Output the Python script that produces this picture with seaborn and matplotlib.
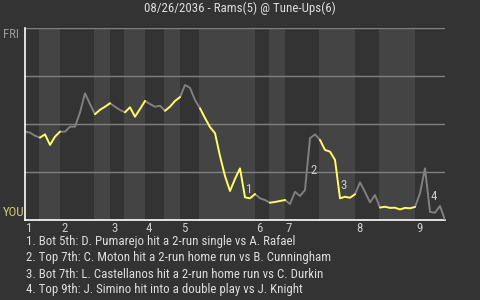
import numpy as np
import pandas as pd
import matplotlib
matplotlib.use("Agg")
import matplotlib.pyplot as plt
import seaborn as sns

# ---------------- data ----------------
title = "08/26/2036 - Rams(5) @ Tune-Ups(6)"
top_label = "FRI"
bottom_label = "YOU"

# win-probability value after each plate appearance (0 = bottom, 1 = top)
wp = [0.460, 0.455, 0.439, 0.429, 0.446, 0.391, 0.434, 0.460, 0.460, 0.486,
      0.486, 0.560, 0.660, 0.604, 0.551, 0.574, 0.590, 0.608, 0.590, 0.573,
      0.561, 0.587, 0.538, 0.578, 0.620, 0.604, 0.590, 0.595, 0.569, 0.590,
      0.620, 0.640, 0.703, 0.688, 0.625, 0.582, 0.531, 0.484, 0.452, 0.333,
      0.229, 0.151, 0.214, 0.269, 0.118, 0.113, 0.135, 0.113, 0.104, 0.090,
      0.094, 0.099, 0.104, 0.083, 0.147, 0.125, 0.156, 0.426, 0.446, 0.417,
      0.365, 0.356, 0.313, 0.113, 0.121, 0.116, 0.134, 0.196, 0.146, 0.092,
      0.130, 0.065, 0.069, 0.063, 0.064, 0.055, 0.063, 0.061, 0.068, 0.139,
      0.269, 0.042, 0.038, 0.073, 0.000]

# plate-appearance index where each half inning starts (top 1, bot 1, ...)
half_starts = [0, 3, 7, 14, 17, 20, 24, 28, 31, 35, 46, 49, 52, 59, 66, 71, 78]
inning_labels = ["1", "2", "3", "4", "5", "6", "7", "8", "9"]

# key events: PA index after the event, label number, description
event_pa = [44, 57, 63, 81]
event_num = ["1", "2", "3", "4"]
event_text = [
    "1. Bot 5th: D. Pumarejo hit a 2-run single vs A. Rafael",
    "2. Top 7th: C. Moton hit a 2-run home run vs B. Cunningham",
    "3. Bot 7th: L. Castellanos hit a 2-run home run vs C. Durkin",
    "4. Top 9th: J. Simino hit into a double play vs J. Knight",
]

# ---------------- styling ----------------
BG = "#333333"
BAND = "#444444"
GRID = "#808080"
GRAY_LINE = "#808080"
YELLOW = "#ffff66"
TEXT = "#dddddd"
FS = 9.3

sns.set_theme(style="dark")
plt.rcParams['font.family'] = ['Roboto Condensed', 'Liberation Sans Narrow',
                               'DejaVu Sans']
plt.rcParams['font.stretch'] = 'condensed'
plt.rcParams['figure.facecolor'] = BG
plt.rcParams['axes.facecolor'] = BG

fig = plt.figure(figsize=(4.8, 3.0), dpi=100)
W, H = 480, 300
ax = fig.add_axes([25 / W, 1 - 220 / H, 420 / W, 192 / H])
ax.set_facecolor(BG)

last_pa = len(wp) - 1

# build segmented data frame (one segment per half inning)
rows = []
for i, s in enumerate(half_starts):
    e = half_starts[i + 1] if i + 1 < len(half_starts) else last_pa
    half = "top" if i % 2 == 0 else "bot"
    for k in range(s, e + 1):
        rows.append({"pa": k, "wp": wp[k], "seg": i, "half": half})
df = pd.DataFrame(rows)

# bottom-half bands
for i, s in enumerate(half_starts):
    if i % 2 == 1:
        e = half_starts[i + 1] if i + 1 < len(half_starts) else last_pa
        ax.axvspan(s - 0.2, e, color=BAND, lw=0, zorder=0)

# horizontal grid lines
for yv in [0.25, 0.5, 0.75, 1.0]:
    ax.axhline(yv, color=GRID, lw=1.0, zorder=1)

sns.lineplot(data=df, x="pa", y="wp", hue="half", units="seg",
             estimator=None, sort=False,
             palette={"top": GRAY_LINE, "bot": YELLOW},
             linewidth=1.4, legend=False, ax=ax, zorder=3)

ax.set_xlim(0, last_pa)
ax.set_ylim(0, 1)
ax.set_xticks([])
ax.set_yticks([])
ax.set_xlabel("")
ax.set_ylabel("")
ax.grid(False)
for side in ["top", "right"]:
    ax.spines[side].set_visible(False)
for side in ["left", "bottom"]:
    ax.spines[side].set_visible(True)
    ax.spines[side].set_color("white")
    ax.spines[side].set_linewidth(1.2)
ax.spines["left"].set_zorder(4)

# inning labels
top_starts = half_starts[0::2]
for lab, s in zip(inning_labels, top_starts):
    ax.text(s + 0.2, -0.008, lab, ha="left", va="top", color="#cccccc",
            fontsize=FS, clip_on=False)

# event numbers
for num, e in zip(event_num, event_pa):
    ymid = (wp[e - 1] + wp[e]) / 2
    ax.text(e + 0.1, ymid, num, ha="left", va="top", color="#cccccc",
            fontsize=FS, zorder=5)

# side labels
fig.text(3 / W, 1 - 34 / H, top_label, ha="left", va="center",
         color="#999999", fontsize=FS)
fig.text(3 / W, 1 - 212 / H, bottom_label, ha="left", va="center",
         color="#cccc77", fontsize=FS)

# title
fig.text(0.5, 1 - 8.5 / H, title, ha="center", va="center", color=TEXT,
         fontsize=FS)

# event descriptions
for i, t in enumerate(event_text):
    fig.text(26 / W, 1 - (242 + 16 * i) / H, t, ha="left", va="center",
             color=TEXT, fontsize=FS)

fig.savefig("out.png", dpi=100, facecolor=BG)
